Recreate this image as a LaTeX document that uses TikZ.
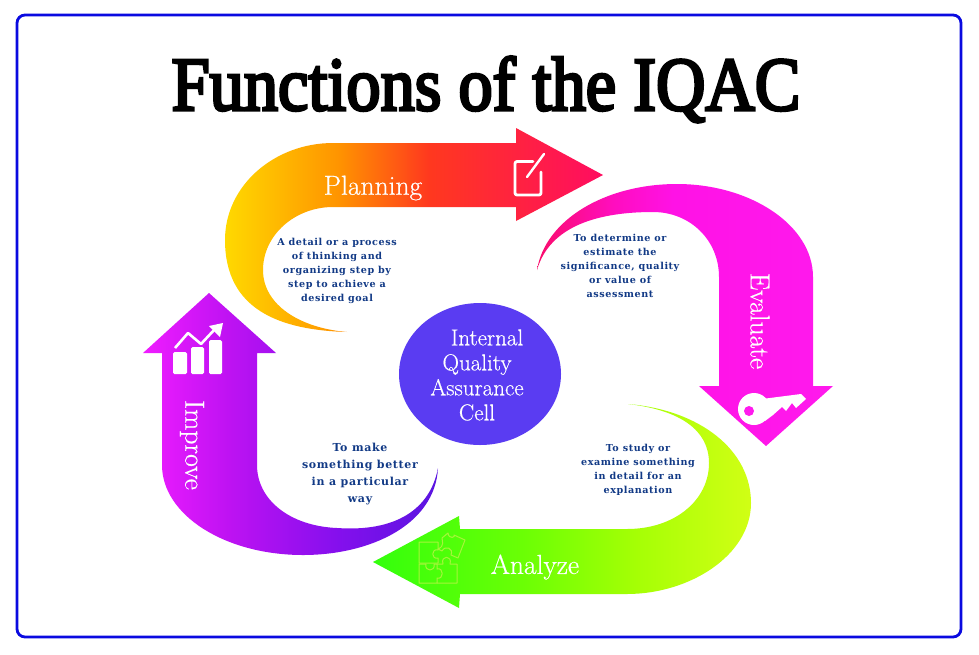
\documentclass[tikz,border=0pt]{standalone}
\usepackage{graphicx}
\usepackage{fontspec}
\newfontfamily\notef[LetterSpace=6]{DejaVu Serif}
\newfontfamily\titlef[FakeBold=4]{Liberation Serif}
\newfontfamily\tagf[FakeBold=0.5]{Latin Modern Roman}
\pgfdeclarehorizontalshading{plangrad}{100bp}{rgb(0bp)=(1,0.85,0);rgb(25bp)=(1,0.85,0);rgb(40bp)=(1,0.58,0);rgb(52bp)=(1,0.22,0.12);rgb(75bp)=(1,0.05,0.38);rgb(100bp)=(1,0.05,0.38)}
\pgfdeclarehorizontalshading{evalgrad}{100bp}{rgb(0bp)=(0.98,0.05,0.42);rgb(25bp)=(0.98,0.05,0.42);rgb(38bp)=(1,0.05,0.75);rgb(48bp)=(1,0.07,0.9);rgb(75bp)=(1,0.1,0.93);rgb(100bp)=(1,0.1,0.93)}
\pgfdeclarehorizontalshading{anagrad}{100bp}{rgb(0bp)=(0.2,1,0.05);rgb(25bp)=(0.2,1,0.05);rgb(45bp)=(0.42,1,0.02);rgb(60bp)=(0.65,1,0.02);rgb(75bp)=(0.82,1,0.08);rgb(100bp)=(0.82,1,0.08)}
\pgfdeclarehorizontalshading{impgrad}{100bp}{rgb(0bp)=(0.94,0.11,1);rgb(25bp)=(0.94,0.11,1);rgb(40bp)=(0.74,0.07,0.95);rgb(58bp)=(0.52,0.06,0.93);rgb(75bp)=(0.35,0.08,0.88);rgb(100bp)=(0.35,0.08,0.88)}
\definecolor{navy}{HTML}{123A86}
\definecolor{frameblue}{HTML}{0A0AE0}
\definecolor{disc}{HTML}{5A3CF2}
\definecolor{piece}{HTML}{A6F53A}
\definecolor{keyhole}{HTML}{FF1AEE}
\tikzset{
  ribbon/.style={draw=none,shading angle=0},
  note/.style={font=\notef\bfseries\fontsize{9.6}{13.9}\selectfont,text=navy,align=center,inner sep=0pt},
  bignote/.style={font=\notef\bfseries\fontsize{11}{17}\selectfont,text=navy,align=center,inner sep=0pt},
  tag/.style={font=\tagf\fontsize{27.5}{30}\selectfont,text=white,inner sep=0pt},
  icon/.style={draw=white,line width=2.8pt,line cap=round,line join=round},
  jig/.style={draw=piece,line width=1pt,line join=round}
}
\begin{document}
\begin{tikzpicture}[x=1pt,y=-1pt]
\useasboundingbox (0,0) rectangle (979,654);
\fill[white] (0,0) rectangle (979,654);
\draw[frameblue,line width=2.8pt,rounded corners=8pt,fill=white] (17,15) rectangle (961,637);
\node[font=\titlef\fontsize{76}{76}\selectfont,inner sep=0pt,anchor=base] (title) at (486,110) {\scalebox{.9}[1]{Functions of the IQAC}};

% Planning
\shade[ribbon,shading=plangrad] (347,332) .. controls (280,330) and (225,310) .. (225,240)
  .. controls (225,185) and (275,143) .. (333,143) -- (516,143) -- (516,128) -- (603,175) -- (516,221) -- (516,207) -- (333,207)
  .. controls (295,207) and (263,235) .. (263,270) .. controls (263,305) and (300,328) .. (347,332) -- cycle;
% Evaluate
\shade[ribbon,shading=evalgrad] (537,270) .. controls (545,220) and (605,184) .. (677,184)
  .. controls (750,184) and (813,225) .. (813,277) -- (813,386) -- (833,386) -- (766,446) -- (699,386) -- (719,386) -- (719,277)
  .. controls (719,240) and (690,212) .. (653,212) .. controls (600,212) and (550,225) .. (537,270) -- cycle;
% Analyze
\shade[ribbon,shading=anagrad] (628,404) .. controls (700,410) and (751,450) .. (751,503)
  .. controls (751,555) and (690,594) .. (627,594) -- (460,594) -- (459,608) -- (373,562) -- (459,516) -- (460,529) -- (627,529)
  .. controls (675,529) and (709,500) .. (709,463) .. controls (709,430) and (680,410) .. (628,404) -- cycle;
% Improve
\shade[ribbon,shading=impgrad] (209,293) -- (276,353) -- (257,353) -- (257,465)
  .. controls (257,500) and (290,526) .. (337,528) .. controls (395,532) and (430,510) .. (438,468)
  .. controls (435,525) and (370,555) .. (303,555) .. controls (225,555) and (162,515) .. (162,465) -- (162,353) -- (143,353) -- cycle;

% Centre
\fill[disc] (480,374) ellipse [x radius=81,y radius=71];
\node[font=\tagf\fontsize{23}{25}\selectfont,text=white,align=center,inner sep=0pt] (cell) at (477,375) {\hspace*{20pt}Internal\\Quality\\Assurance\\Cell};

% Labels
\node[tag] (planning) at (373,188) {Planning};
\node[tag,rotate=-90] (evaluate) at (760,321) {Evaluate};
\node[tag] (analyze) at (535,567) {Analyze};
\node[tag,rotate=-90] (improve) at (192,445) {Improve};

% Notes
\node[note] (n1) at (337,271) {A detail or a process\\of thinking and\\organizing step by\\step to achieve a\\desired goal};
\node[note] (n2) at (620,266) {To determine or\\estimate the\\significance, quality\\or value of\\assessment};
\node[note] (n3) at (638,470) {To study or\\examine something\\in detail for an\\explanation};
\node[bignote] (n4) at (360,474) {To make\\something better\\in a particular\\way};

% Notepad icon
\draw[icon,rounded corners=2pt] (533,161.5) -- (515,161.5) -- (515,195) -- (541,195) -- (541,172);
\draw[icon,line width=2.4pt] (527,177) -- (544,154);
% Key icon
\fill[white] (754,409) circle [radius=16];
\fill[white] (762,399) -- (801,394) -- (806,399) -- (796,408) -- (792,403) -- (786,411) -- (782,407) -- (773,415) -- (765,421) -- cycle;
\fill[keyhole] (749,411) circle [radius=5];
% Chart icon
\fill[white,rounded corners=1.5pt] (173,352) rectangle (187,374);
\fill[white,rounded corners=1.5pt] (191,347) rectangle (204,374);
\fill[white,rounded corners=1.5pt] (209,340) rectangle (222,374);
\draw[icon,line width=2.6pt,line cap=butt] (175,348) -- (188,333) -- (201,344) -- (215,329);
\fill[white] (223,323) -- (209,326) -- (220,337) -- cycle;
% Puzzle icon
\draw[jig] (419,542) -- (438,542) -- (438,550) .. controls (431,548) and (431,560) .. (438,558) -- (438,563) -- (419,563) -- cycle;
\draw[jig] (419,564) -- (426,564) .. controls (424,572) and (436,572) .. (434,564) -- (437,564) -- (437,569) .. controls (444,567) and (444,580) .. (437,578) -- (437,583) -- (419,583) -- cycle;
\draw[jig] (437,583) -- (457,583) -- (457,564) -- (450,564) .. controls (453,555) and (440,555) .. (443,564) -- (437,564);
\draw[jig] (442,538) -- (448,533) .. controls (449,540) and (456,537) .. (454,535) -- (465,540) -- (458,558) -- (451,555) .. controls (454,548) and (445,545) .. (442,551) -- (438,549) .. controls (445,546) and (442,541) .. (442,538) -- cycle;
\end{tikzpicture}
\end{document}
